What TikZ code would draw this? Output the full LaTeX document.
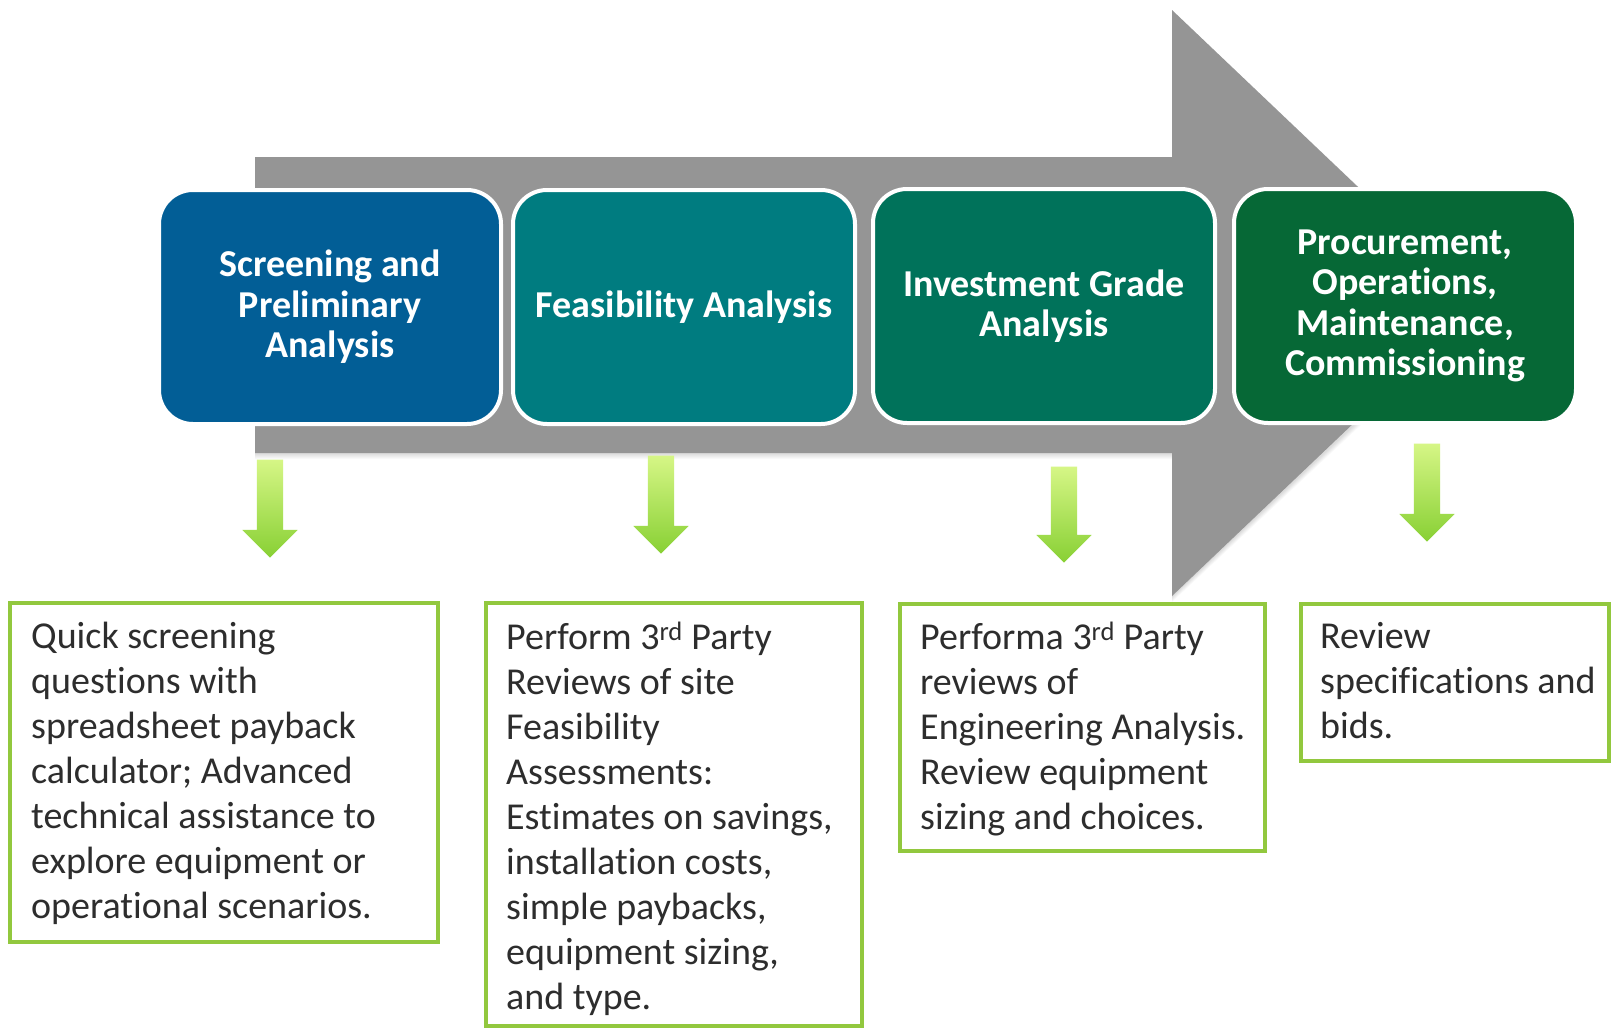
\documentclass[tikz,border=0pt]{standalone}
\usepackage{fontspec}
\setmainfont[Ligatures=NoCommon]{Carlito}
\usetikzlibrary{shapes.arrows}
\definecolor{arrowgray}{RGB}{149,149,149}
\definecolor{stageA}{RGB}{2,94,150}
\definecolor{stageB}{RGB}{0,124,128}
\definecolor{stageC}{RGB}{0,114,90}
\definecolor{stageD}{RGB}{6,104,54}
\definecolor{leafgreen}{RGB}{146,200,62}
\definecolor{downtop}{RGB}{214,246,134}
\definecolor{downbot}{RGB}{136,208,52}
\definecolor{bodytext}{RGB}{45,45,45}
\begin{document}
\begin{tikzpicture}[x=1pt,y=-1pt,
  stage/.style={rounded corners=34pt, draw=white, line width=4pt,
    minimum width=342pt, minimum height=234pt, align=center, text=white,
    font=\fontsize{38}{40.5}\selectfont\bfseries},
  note/.style={draw=leafgreen, line width=4.5pt, fill=white},
  notetext/.style={anchor=north west, align=left, inner sep=0pt, text=bodytext,
    font=\fontsize{38}{45}\selectfont},
  down/.style={single arrow, shape border rotate=270, minimum width=55pt,
    single arrow head extend=14.5pt, single arrow head indent=0pt,
    single arrow tip angle=90, inner sep=0pt, text width=26pt,
    top color=downtop, bottom color=downbot, draw=none}
]
\useasboundingbox[fill=white] (0,0) rectangle (1612,1029);

% soft shadow under the big process arrow
\foreach \k in {1,...,6}
  \fill[black, opacity=0.025] (255,{157+\k}) -- (1172,{157+\k}) -- (1172,{10+\k})
    -- ({1483+\k*0.3},{303+\k}) -- (1172,{596+\k}) -- (1172,{453+\k}) -- (255,{453+\k}) -- cycle;
% big process arrow
\fill[arrowgray] (255,157) -- (1172,157) -- (1172,10) -- (1480,303)
  -- (1172,596) -- (1172,453) -- (255,453) -- cycle;

% stage boxes
\node[stage, fill=stageA] (s1) at (330,307) {Screening and\\Preliminary\\Analysis};
\node[stage, fill=stageB] (s2) at (684,307) {Feasibility Analysis};
\node[stage, fill=stageC] (s3) at (1044,306) {Investment Grade\\Analysis};
\node[stage, fill=stageD] (s4) at (1405,306) {Procurement,\\Operations,\\Maintenance,\\Commissioning};

% down arrows
\node[down, minimum height=98pt] (d1) at (270,502) {};
\node[down, minimum height=98pt] (d2) at (661,498) {};
\node[down, minimum height=96pt] (d3) at (1064,508) {};
\node[down, minimum height=98pt] (d4) at (1427,486) {};

% description boxes
\draw[note] (10,603) rectangle (438,942);
\draw[note] (486,603) rectangle (862,1026);
\draw[note] (900,604) rectangle (1265,851);
\draw[note] (1301,604) rectangle (1609,761);

\node[notetext] (t1) at (31,622) {Quick screening\\questions with\\spreadsheet payback\\calculator; Advanced\\technical assistance to\\explore equipment or\\operational scenarios.};
\node[notetext] (t2) at (506,622) {Perform 3\textsuperscript{rd} Party\\Reviews of site\\Feasibility\\Assessments:\\Estimates on savings,\\installation costs,\\simple paybacks,\\equipment sizing,\\and type.};
\node[notetext] (t3) at (920,622) {Performa 3\textsuperscript{rd} Party\\reviews of\\Engineering Analysis.\\Review equipment\\sizing and choices.};
\node[notetext] (t4) at (1320,622) {Review\\specifications and\\bids.};
\end{tikzpicture}
\end{document}
